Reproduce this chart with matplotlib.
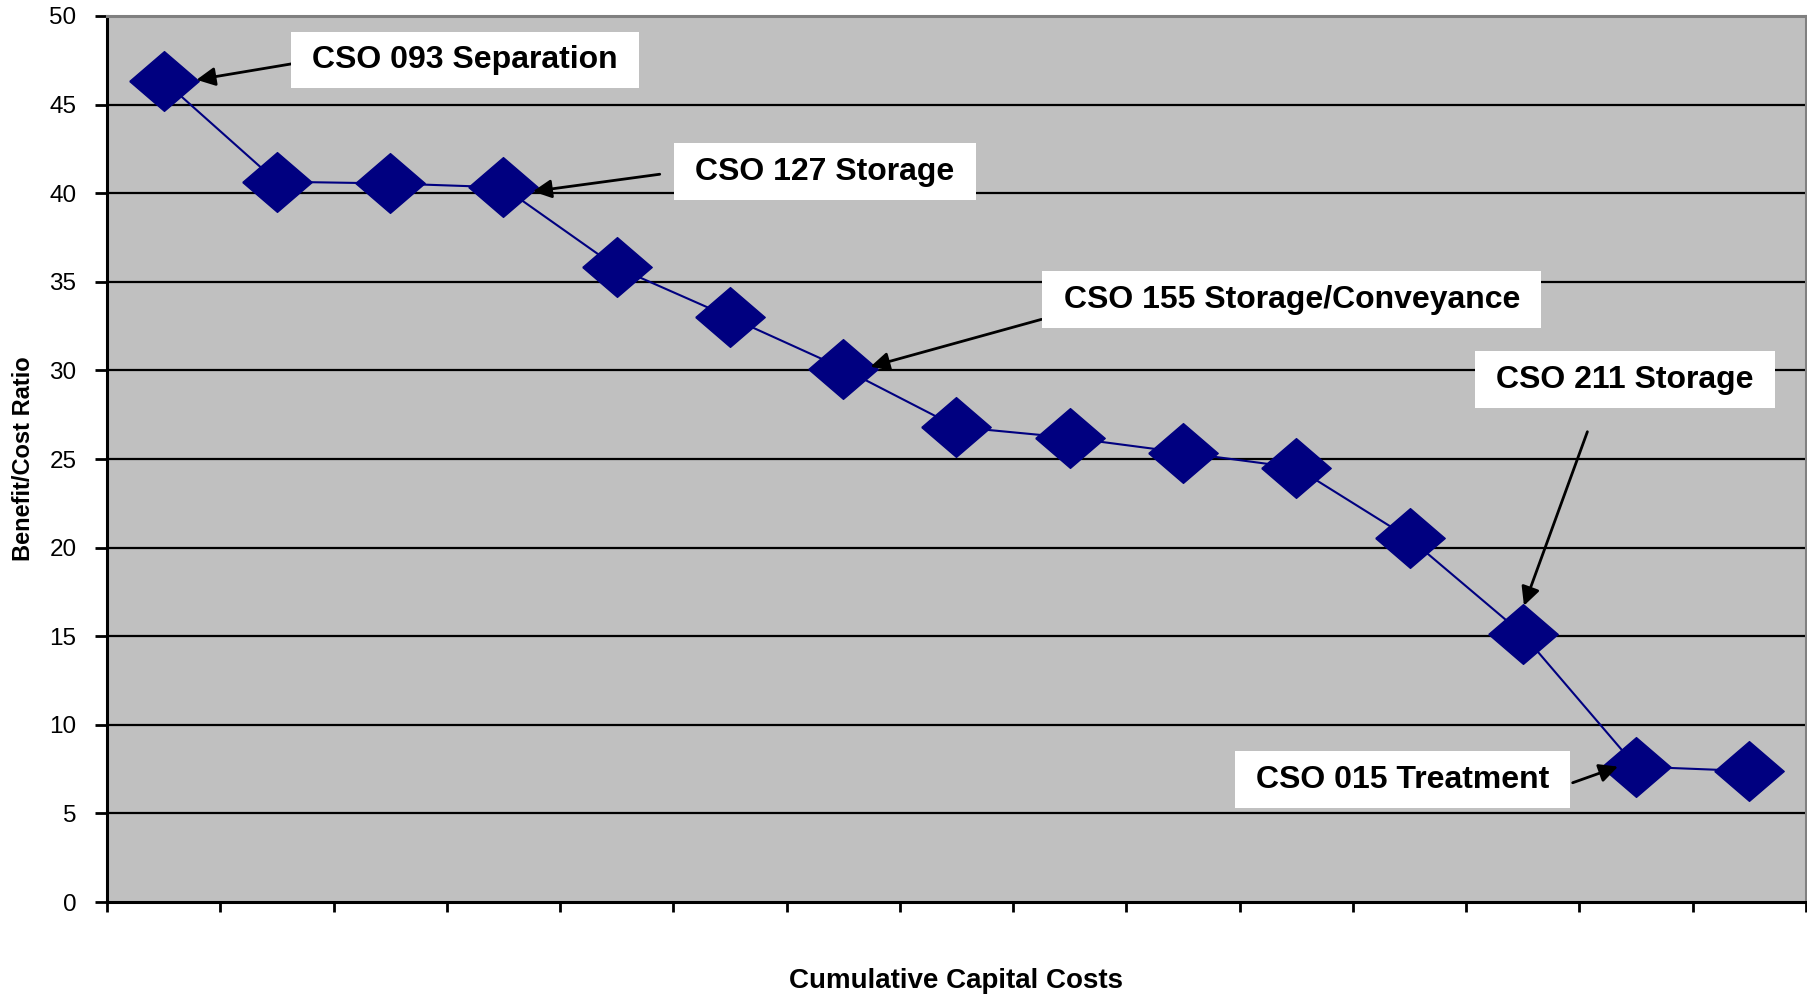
import numpy as np
import matplotlib.pyplot as plt
from matplotlib.path import Path

plt.rcParams['font.family'] = ['Liberation Sans', 'DejaVu Sans']

# データ (15 プロジェクト、累積資本コスト順)
positions = np.arange(15) + 0.5
bc_ratio = [46.35, 40.65, 40.55, 40.33, 35.82, 33.0, 30.1, 26.81,
            26.2, 25.36, 24.51, 20.52, 15.11, 7.64, 7.39]
y_ticks = [0, 5, 10, 15, 20, 25, 30, 35, 40, 45, 50]

# 注釈ラベル: (テキスト, ボックス中心, 矢印始点, 矢印先端)
labels = ['CSO 093 Separation', 'CSO 127 Storage', 'CSO 155 Storage/Conveyance',
          'CSO 211 Storage', 'CSO 015 Treatment']
box_xy = [(3.16, 47.52), (6.34, 41.21), (10.46, 33.98), (13.40, 29.47), (11.44, 6.89)]
arrow_from = [(1.63, 47.3), (4.88, 41.07), (8.25, 32.88), (13.07, 26.54), (12.94, 6.73)]
arrow_to = [(0.79, 46.4), (3.76, 40.1), (6.74, 30.21), (12.51, 16.72), (13.34, 7.64)]


def wide_box(x0, y0, width, height, mutation_size):
    # 横に広く、縦に狭い余白の白ボックス
    px = 0.66 * mutation_size
    py = 0.42 * mutation_size
    x0, y0 = x0 - px, y0 - py
    x1, y1 = x0 + width + 2 * px, y0 + height + 2 * py
    return Path([(x0, y0), (x1, y0), (x1, y1), (x0, y1), (x0, y0)], closed=True)


diamond = [(-1, 0), (0, 0.86), (1, 0), (0, -0.86), (-1, 0)]

fig = plt.figure(figsize=(18.08, 9.97), dpi=100)
ax = fig.add_axes([107 / 1808, 95 / 997, 1699 / 1808, 886 / 997])
ax.set_facecolor('#C0C0C0')

for y in y_ticks[1:-1]:
    ax.axhline(y, color='black', lw=1.6, zorder=1)

ax.plot(positions, bc_ratio, color='#000080', lw=1.5, marker=diamond,
        markersize=50, markerfacecolor='#000080', markeredgecolor='#000080',
        zorder=3)

for txt, bxy, a0, a1 in zip(labels, box_xy, arrow_from, arrow_to):
    ax.annotate('', xy=a1, xytext=a0,
                arrowprops=dict(arrowstyle='-|>', color='black', lw=2,
                                mutation_scale=28, shrinkA=0, shrinkB=0),
                zorder=4)
    ax.text(bxy[0], bxy[1], txt, ha='center', va='center', fontsize=23,
            fontweight='bold', color='black', zorder=5,
            bbox=dict(boxstyle=wide_box, fc='white', ec='none'))

ax.set_xlim(0, 15)
ax.set_ylim(0, 50)
ax.set_xticks(np.arange(16))
ax.set_xticklabels([])
ax.set_yticks(y_ticks)
ax.tick_params(axis='y', labelsize=17.5, length=9, width=2, pad=13, direction='out')
ax.tick_params(axis='x', length=7, width=2, direction='out')

for s in ['left', 'bottom']:
    ax.spines[s].set_color('black')
    ax.spines[s].set_linewidth(2.2)
for s in ['top', 'right']:
    ax.spines[s].set_color('#808080')
    ax.spines[s].set_linewidth(2.2)

ax.set_ylabel('Benefit/Cost Ratio', fontsize=17, fontweight='bold', labelpad=10)
fig.text(956 / 1808, 1 - 981 / 997, 'Cumulative Capital Costs', ha='center',
         va='center', fontsize=20, fontweight='bold')

plt.savefig('out.png', dpi=100)
plt.close()
